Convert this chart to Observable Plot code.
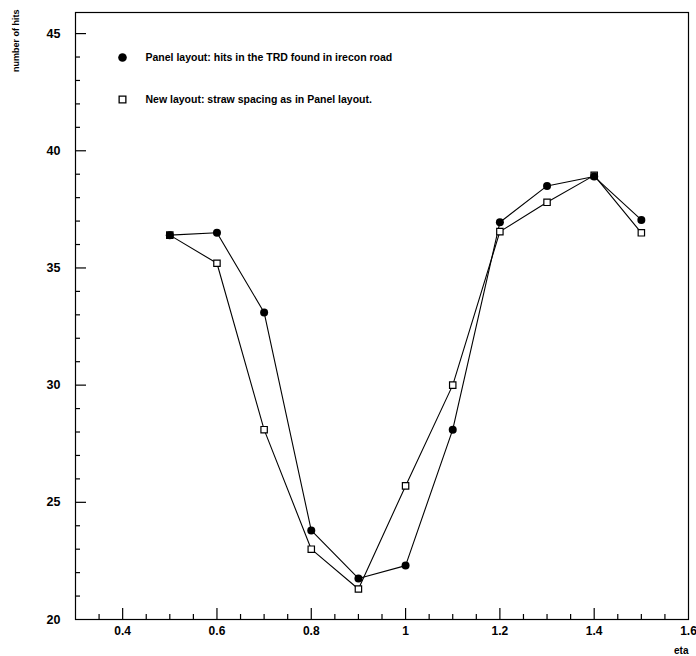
<!DOCTYPE html>
<html><head><meta charset="utf-8">
<script src="https://cdn.jsdelivr.net/npm/d3@7"></script>
<script src="https://cdn.jsdelivr.net/npm/@observablehq/plot@0.6"></script>
<style>body{margin:0;background:#fff}</style>
</head><body><div id="chart"></div>
<script>
const eta = [0.5, 0.6, 0.7, 0.8, 0.9, 1.0, 1.1, 1.2, 1.3, 1.4, 1.5];
const panelHits = [36.4, 36.5, 33.1, 23.8, 21.75, 22.3, 28.1, 36.95, 38.5, 38.9, 37.05];
const newHits = [36.4, 35.2, 28.1, 23.0, 21.3, 25.7, 30.0, 36.55, 37.8, 38.95, 36.5];
const legendLabels = ["Panel layout: hits in the TRD found in irecon road", "New layout: straw spacing as in Panel layout."];
const xLabels = [0.4, 0.6, 0.8, 1, 1.2, 1.4, 1.6];
const xMajorTicks = [0.4, 0.6, 0.8, 1, 1.2, 1.4];
const xMinorTicks = [0.35, 0.45, 0.5, 0.55, 0.65, 0.7, 0.75, 0.85, 0.9, 0.95, 1.05, 1.1, 1.15, 1.25, 1.3, 1.35, 1.45, 1.5, 1.55];
const yLabels = [20, 25, 30, 35, 40, 45];
const yMajorTicks = [25, 30, 35, 40, 45];
const yMinorTicks = [21, 22, 23, 24, 26, 27, 28, 29, 31, 32, 33, 34, 36, 37, 38, 39, 41, 42, 43, 44];

const W = 696, H = 656;
const mL = 75, mR = 8, mT = 12, mB = 37;
const iw = W - mL - mR, ih = H - mT - mB;

const panel = eta.map((x, i) => ({x, y: panelHits[i]}));
const newer = eta.map((x, i) => ({x, y: newHits[i]}));
const font = {fontFamily: "Liberation Sans, Arial, sans-serif", fontWeight: "bold"};

const chart = Plot.plot({
  width: W, height: H,
  marginLeft: mL, marginRight: mR, marginTop: mT, marginBottom: mB,
  style: {fontFamily: "Liberation Sans, Arial, sans-serif", background: "#fff", color: "#000"},
  x: {domain: [0.3, 1.6]},
  y: {domain: [20, 45.9]},
  marks: [
    Plot.frame({stroke: "#000", strokeWidth: 1.2}),
    Plot.ruleX(xMinorTicks, {x: d => d, insetTop: ih - 5, stroke: "#000", strokeWidth: 1.2}),
    Plot.ruleX(xMajorTicks, {x: d => d, insetTop: ih - 11, stroke: "#000", strokeWidth: 1.2}),
    Plot.ruleY(yMinorTicks, {y: d => d, insetRight: iw - 5, stroke: "#000", strokeWidth: 1.2}),
    Plot.ruleY(yMajorTicks, {y: d => d, insetRight: iw - 11, stroke: "#000", strokeWidth: 1.2}),
    Plot.axisX({ticks: xLabels, tickSize: 0, tickPadding: 7, tickFormat: d => String(+d.toFixed(2)), label: null, fontSize: 12, ...font}),
    Plot.axisY({ticks: yLabels, tickSize: 0, tickPadding: 15, label: null, fontSize: 12.5, ...font}),
    Plot.line(panel, {x: "x", y: "y", stroke: "#000", strokeWidth: 1.1}),
    Plot.line(newer, {x: "x", y: "y", stroke: "#000", strokeWidth: 1.1}),
    Plot.dot(newer, {x: "x", y: "y", symbol: "square", r: 3.6, fill: "#fff", stroke: "#000", strokeWidth: 1.2}),
    Plot.dot(panel, {x: "x", y: "y", r: 4, fill: "#000", stroke: "none"}),
    // legend
    Plot.dot([0], {frameAnchor: "top-left", dx: 47, dy: 45, r: 4.3, fill: "#000", stroke: "none"}),
    Plot.dot([0], {frameAnchor: "top-left", dx: 47, dy: 87, symbol: "square", r: 3.8, fill: "#fff", stroke: "#000", strokeWidth: 1.3}),
    Plot.text([legendLabels[0]], {frameAnchor: "top-left", dx: 70, dy: 45, text: d => d, textAnchor: "start", lineAnchor: "middle", fontSize: 10.5, ...font, fill: "#000"}),
    Plot.text([legendLabels[1]], {frameAnchor: "top-left", dx: 70, dy: 87, text: d => d, textAnchor: "start", lineAnchor: "middle", fontSize: 10.5, ...font, fill: "#000"}),
    // axis titles
    Plot.text(["number of hits"], {frameAnchor: "top-left", dx: -59, dy: -3, rotate: -90, text: d => d, textAnchor: "end", lineAnchor: "middle", fontSize: 9, ...font, fill: "#000"}),
    Plot.text(["eta"], {frameAnchor: "bottom-right", dx: 0, dy: 31, text: d => d, textAnchor: "end", lineAnchor: "middle", fontSize: 10, ...font, fill: "#000"})
  ]
});
document.getElementById("chart").append(chart);
</script>
</body></html>
